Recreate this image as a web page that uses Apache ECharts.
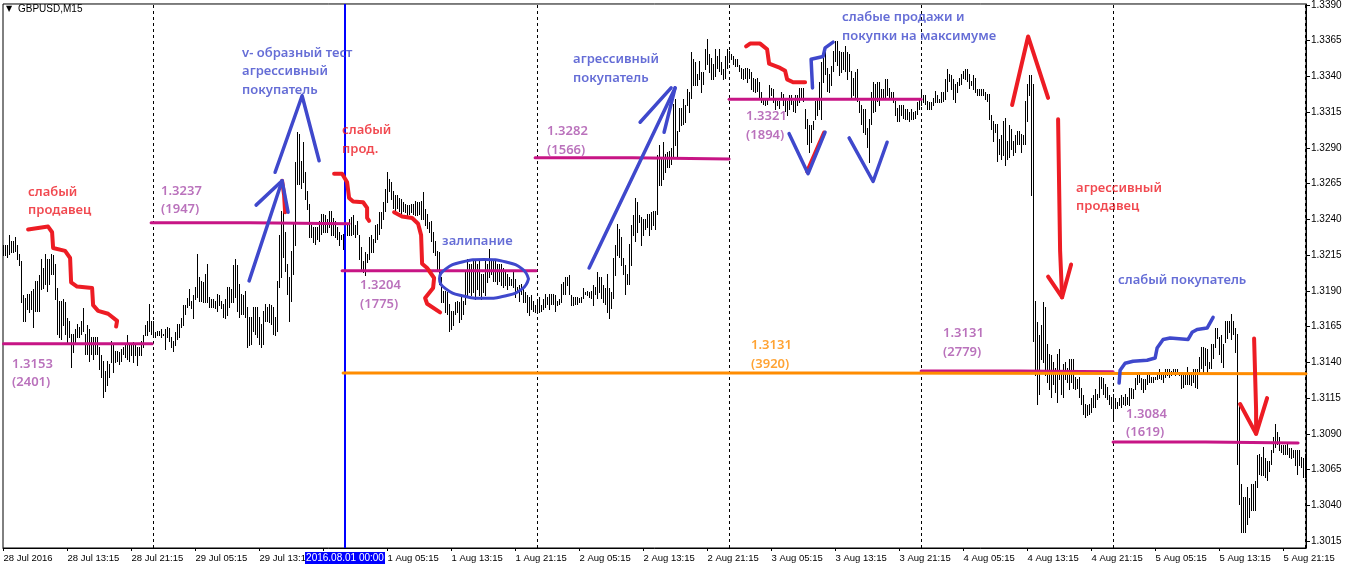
<!DOCTYPE html>
<html><head><meta charset="utf-8">
<style>html,body{margin:0;padding:0;background:#fff}#c{width:1346px;height:569px}</style>
<script src="https://cdn.jsdelivr.net/npm/echarts@6/dist/echarts.min.js"></script>
</head><body><div id="c"></div>
<script>
// GBPUSD M15 - highs/lows in units of 0.0001 above 1.0000
const highs=[
3222,3222,3222,3229,3225,3225,3228,3222,3216,3211,3187,3185,3188,3188,3190,3191,3197,3197,3201,3212,
3206,3216,3212,3212,3216,3215,3209,3192,3183,3183,3184,3182,3171,3169,3160,3160,3163,3167,3165,3169,
3178,3160,3166,3163,3158,3158,3158,3158,3151,3145,3141,3134,3141,3139,3155,3152,3148,3148,3147,3149,
3151,3152,3159,3152,3152,3154,3152,3151,3151,3155,3159,3166,3169,3181,3169,3169,3161,3162,3162,3163,
3160,3163,3165,3164,3158,3155,3161,3167,3167,3171,3180,3180,3185,3191,
3183,3187,3193,3216,3200,3197,3196,3202,3209,3186,3184,3184,3183,3188,3187,3183,3181,3184,3193,3193,
3191,3208,3212,3208,3195,3188,3187,3190,3179,3172,3172,3179,3179,3179,3172,3167,3176,3181,3179,3181,
3180,3179,3172,3197,3229,3246,3248,3231,3209,3200,3218,3238,3280,3301,3300,3281,3294,3273,3260,3251,
3236,3235,3235,3235,3239,3244,3244,3243,3240,3246,3246,3241,3239,3235,3231,3229,3230,3237,3237,3240,
3242,3243,3236,3239,3229,3221,3211,3217,3216,3228,3229,3226,3236,3237,3245,
3245,3252,3261,3273,3268,3266,3260,3257,3257,3255,3254,3252,3251,3250,3250,3251,3251,3253,3252,3252,
3253,3259,3247,3244,3238,3239,3231,3225,3218,3217,3200,3190,3190,3189,3181,3176,3176,3182,3183,3182,
3186,3183,3204,3212,3209,3209,3211,3211,3209,3212,3202,3202,3212,3209,3219,3211,3211,3211,3209,3209,
3209,3206,3204,3202,3200,3198,3203,3198,3193,3194,3195,3191,3189,3187,3186,3187,3183,3180,3183,3186,
3180,3184,3188,3186,3188,3188,3188,3187,3183,3184,3195,3196,3200,3200,3201,
3187,3186,3186,3186,3185,3186,3192,3189,3190,3189,3190,3194,3193,3203,3200,3200,3194,3192,3202,3192,
3189,3213,3222,3237,3233,3228,3213,3208,3202,3223,3236,3243,3255,3252,3243,3242,3240,3240,3244,3244,
3245,3246,3246,3285,3292,3282,3294,3286,3287,3288,3290,3321,3324,3302,3318,3318,3324,3320,3331,3329,
3357,3352,3350,3342,3351,3343,3343,3359,3366,3356,3353,3349,3359,3354,3359,3350,3345,3354,3359,3358,
3356,3354,3352,3352,3348,3346,3345,3346,3346,3345,3343,3339,3338,3339,3336,
3329,3325,3325,3324,3334,3332,3331,3324,3323,3323,3329,3328,3324,3323,3327,3327,3323,3327,3327,3332,
3332,3332,3317,3310,3306,3306,3309,3323,3324,3336,3350,3355,3358,3346,3342,3347,3358,3365,3365,3358,
3357,3357,3361,3357,3356,3344,3339,3343,3345,3323,3320,3317,3317,3304,3310,3329,3336,3335,3336,3336,
3331,3331,3338,3338,3332,3329,3329,3323,3318,3320,3320,3320,3317,3317,3315,3317,3315,3316,3322,3324,
3329,3327,3327,3323,3322,3322,3325,3330,3327,3324,3329,3329,3338,3345,3342,
3341,3338,3335,3336,3339,3342,3344,3345,3345,3342,3337,3341,3339,3331,3331,3331,3331,3329,3328,3328,
3313,3309,3307,3307,3296,3299,3309,3311,3295,3306,3303,3295,3299,3302,3302,3300,3299,3323,3335,3341,
3341,3335,3183,3168,3159,3166,3182,3179,3153,3146,3145,3140,3136,3146,3149,3132,3139,3140,3136,3142,
3142,3142,3130,3128,3130,3122,3117,3111,3110,3111,3115,3117,3121,3118,3130,3130,3129,3125,3123,3117,
3116,3118,3115,3112,3115,3117,3116,3118,3116,3122,3122,3121,3129,3131,3132,
3129,3128,3128,3131,3131,3130,3130,3130,3131,3135,3133,3132,3135,3135,3135,3134,3135,3135,3135,3133,
3132,3132,3132,3137,3131,3133,3135,3135,3135,3144,3151,3151,3150,3149,3140,3153,3153,3164,3164,3158,
3159,3153,3169,3169,3169,3174,3169,3164,3160,3111,3055,3046,3046,3053,3045,3055,3055,3057,3075,3076,
3074,3081,3073,3071,3071,3079,3088,3097,3091,3088,3082,3082,3082,3083,3080,3080,3079,3079,3079,3079,
3074,3073,3076];
const lows=[
3215,3215,3214,3216,3217,3217,3218,3212,3208,3182,3169,3169,3177,3175,3177,3165,3176,3176,3176,3191,
3192,3195,3190,3195,3202,3202,3184,3160,3158,3156,3166,3160,3153,3158,3137,3147,3154,3158,3158,3160,
3162,3146,3146,3141,3146,3142,3146,3146,3135,3130,3116,3120,3124,3130,3140,3133,3140,3141,3139,3141,
3146,3144,3142,3141,3145,3140,3145,3138,3145,3145,3151,3159,3159,3162,3160,3158,3158,3159,3159,3158,
3159,3149,3158,3155,3151,3148,3152,3156,3158,3165,3166,3174,3179,3180,
3178,3171,3184,3186,3183,3183,3182,3182,3182,3179,3179,3179,3178,3176,3180,3178,3172,3171,3173,3179,
3182,3182,3186,3176,3172,3174,3174,3172,3151,3152,3153,3162,3160,3158,3153,3151,3153,3169,3169,3168,
3167,3160,3159,3162,3193,3200,3214,3204,3188,3169,3183,3202,3222,3265,3265,3262,3266,3254,3247,3228,
3228,3224,3223,3226,3225,3230,3231,3231,3231,3235,3229,3229,3228,3226,3222,3226,3219,3223,3229,3229,
3229,3230,3228,3230,3212,3204,3203,3201,3210,3212,3217,3217,3224,3226,3230,
3234,3240,3246,3252,3260,3254,3248,3245,3248,3246,3244,3246,3245,3243,3244,3245,3244,3243,3243,3244,
3240,3240,3236,3234,3231,3225,3217,3215,3204,3195,3182,3182,3175,3174,3162,3163,3166,3174,3175,3168,
3170,3174,3181,3186,3189,3187,3189,3184,3191,3187,3184,3189,3187,3196,3200,3202,3197,3197,3195,3197,
3194,3193,3194,3191,3194,3194,3193,3186,3189,3183,3188,3182,3182,3175,3173,3177,3176,3175,3175,3175,
3176,3177,3179,3181,3177,3181,3181,3176,3180,3181,3182,3188,3188,3194,3188,
3180,3180,3181,3181,3182,3182,3185,3188,3187,3186,3185,3180,3188,3185,3189,3185,3182,3181,3175,3171,
3178,3185,3201,3215,3214,3208,3202,3188,3195,3195,3208,3229,3225,3231,3238,3222,3229,3233,3235,3229,
3233,3236,3233,3244,3264,3264,3268,3273,3277,3277,3279,3283,3292,3283,3302,3306,3307,3308,3320,3315,
3325,3334,3334,3334,3338,3329,3335,3345,3349,3343,3338,3338,3340,3346,3344,3342,3338,3339,3346,3350,
3352,3349,3347,3347,3344,3339,3338,3339,3336,3339,3331,3330,3329,3330,3324,
3322,3321,3320,3321,3325,3327,3322,3317,3320,3318,3324,3320,3316,3313,3317,3321,3316,3315,3320,3322,
3324,3323,3304,3293,3287,3294,3303,3310,3313,3317,3310,3336,3342,3330,3329,3334,3344,3351,3348,3341,
3343,3345,3344,3338,3344,3324,3327,3325,3323,3315,3307,3301,3300,3291,3280,3307,3315,3316,3323,3320,
3325,3325,3325,3327,3325,3324,3322,3313,3309,3309,3313,3311,3310,3310,3309,3310,3310,3311,3314,3317,
3320,3322,3321,3317,3317,3317,3320,3322,3322,3322,3322,3323,3324,3330,3337,
3331,3324,3322,3329,3334,3335,3339,3338,3337,3332,3334,3331,3329,3327,3327,3327,3327,3324,3323,3310,
3303,3295,3301,3281,3286,3282,3285,3278,3282,3284,3289,3285,3287,3293,3293,3287,3293,3293,3309,3327,
3257,3155,3131,3111,3118,3142,3140,3131,3126,3121,3116,3125,3119,3112,3128,3118,3116,3128,3126,3121,
3126,3122,3121,3122,3116,3111,3104,3102,3103,3104,3105,3109,3109,3114,3116,3122,3118,3116,3114,3111,
3108,3101,3108,3108,3110,3109,3111,3110,3111,3110,3115,3115,3121,3125,3126,
3121,3119,3121,3125,3126,3126,3126,3128,3128,3129,3128,3126,3130,3131,3130,3131,3132,3131,3132,3131,
3122,3123,3125,3125,3125,3124,3126,3123,3122,3133,3136,3133,3138,3132,3136,3136,3143,3151,3157,3146,
3140,3137,3154,3157,3161,3156,3160,3147,3069,3041,3021,3021,3021,3027,3032,3037,3037,3037,3053,3062,
3061,3061,3060,3058,3064,3069,3077,3081,3083,3079,3077,3076,3076,3076,3074,3073,3074,3068,3062,3068,
3067,3060,3060];
const yTicks=[3015,3040,3065,3090,3115,3140,3165,3190,3215,3240,3265,3290,3315,3340,3365,3390];
const xTickLabels=['28 Jul 2016','28 Jul 13:15','28 Jul 21:15','29 Jul 05:15','29 Jul 13:15','','1 Aug 05:15','1 Aug 13:15','1 Aug 21:15','2 Aug 05:15','2 Aug 13:15','2 Aug 21:15','3 Aug 05:15','3 Aug 13:15','3 Aug 21:15','4 Aug 05:15','4 Aug 13:15','4 Aug 21:15','5 Aug 05:15','5 Aug 13:15','5 Aug 21:15'];
const barsPerLabel=32;
const sessionBars=[74.75,266.75,362.75,458.75,554.75,651];
const markedBar=170.75;

// level lines [bar, price units]
const levels=[
 [[0,3153],[74.3,3153]],
 [[73.8,3237.6],[123.3,3237.6],[123.3,3236.9],[172.8,3236.9]],
 [[169.3,3204],[266.3,3204]],
 [[265.8,3283.2],[314.3,3283.2],[314.3,3282.3],[362.8,3282.3]],
 [[362.8,3324],[458.8,3324]],
 [[458.8,3134],[507.3,3134],[507.3,3133.4],[554.8,3133.4]],
 [[554.8,3084.3],[601,3084.3],[601,3083.6],[647.3,3083.6]]];
const orangeLevel=[[169.8,3132.6],[410.8,3132.6],[410.8,3132],[651.25,3132]];

// hand-drawn annotations [bar, price units]
const redStrokes=[
 [[12.3,3233],[13.3,3234],[22.3,3235],[24.3,3231],[24.8,3220],[30.8,3218],[33.3,3213],[33.8,3196],[36.8,3193],[44.3,3192],[44.8,3180],[47.3,3176],[52.3,3174],[56.8,3169],[56.3,3165]],
 [[139.3,3267],[140.3,3257],[140.8,3245]],
 [[165.3,3272],[169.3,3272],[171.8,3266],[172.8,3255],[174.8,3252.5],[179.8,3252],[181.8,3248],[181.8,3241],[182.8,3239]],
 [[195.3,3245],[199.3,3242],[204.3,3241],[207.3,3237],[208.8,3229],[209.3,3209],[211.8,3206],[215.3,3199],[214.8,3192],[210.8,3185],[211.8,3181],[218.3,3175]],
 [[371.3,3361],[373.3,3363],[378.3,3363],[381.8,3359],[382.8,3349],[388.3,3346],[390.8,3344],[391.8,3338],[394.8,3336],[400.8,3336]],
 [[401.8,3273.4],[410.3,3300.7]],
 [[504.3,3320],[512.3,3368],[522.3,3325]],
 [[527.3,3310],[528.3,3218],[529.3,3185.5]],
 [[522.3,3200],[529.3,3185.5],[533.8,3208.5]],
 [[625.3,3156.7],[626.3,3106.6],[626.3,3090]],
 [[618.3,3110.8],[626.3,3090],[631.8,3115]]];
const blueStrokes=[
 [[122.8,3197],[139.3,3267]],
 [[126.3,3250],[139.3,3267],[142.3,3245]],
 [[135.8,3273],[149.3,3326.5],[157.8,3281]],
 [[292.8,3206],[335.8,3332]],
 [[318.3,3308],[333.8,3332]],
 [[330.3,3301],[335.8,3332]],
 [[404.5,3332],[403.8,3352],[409.8,3354],[410.8,3360],[414.8,3364]],
 [[392.8,3300],[402.3,3272],[410.8,3301]],
 [[422.8,3297],[434.8,3266.5],[441.8,3294]],
 [[557.8,3125.5],[558.3,3134.5],[560.8,3139.4],[564.8,3140.8],[571.8,3141.5],[575.8,3143],[576.8,3150],[579.8,3156],[583.3,3157],[592.3,3156],[594.3,3161],[596.8,3163],[601.8,3164],[604.8,3171.5]]];
const loopOutline=[[262.5,3198.4],[259.5,3191.6],[251.3,3186.6],[240.3,3184.8],[229.3,3186.6],[221,3191.6],[218,3198.4],[221,3205.2],[229.3,3210.2],[240.3,3212],[251.3,3210.2],[259.5,3205.2],[262.5,3198.4]];

// notes [bar, price units, text]
const redNotes=[[12.3,3252.5,'слабый\nпродавец'],[169.3,3295.8,'слабый\nпрод.'],[536.3,3255.3,'агрессивный\nпродавец']];
const blueNotes=[[119.3,3343.6,'v- образный тест\nагрессивный\nпокупатель'],[219.3,3224.6,'залипание'],[284.8,3345.3,'агрессивный\nпокупатель'],[419.3,3374.6,'слабые продажи и\nпокупки на максимуме'],[557.3,3197.4,'слабый покупатель']];
const purpleNotes=[[4.3,3132.4,'1.3153\n(2401)'],[78.8,3253.5,'1.3237\n(1947)'],[178.3,3187.2,'1.3204\n(1775)'],[271.8,3295,'1.3282\n(1566)'],[371.3,3305.5,'1.3321\n(1894)'],[469.8,3153.7,'1.3131\n(2779)'],[561.3,3097.2,'1.3084\n(1619)']];
const orangeNotes=[[373.8,3145.4,'1.3131\n(3920)']];

const price=v=>1+v/10000;
const RED='#ed1c24',BLUE='#3f48cc',MAG='#c71585',ORG='#ff8c00',PUR='#a94fab';
const NOTE_FONT='"Noto Sans"';
const AXIS_FONT='"Liberation Sans"';

const pathSeries=(pts,color,width,extra)=>Object.assign({
  type:'line',data:pts.map(p=>[p[0],price(p[1])]),symbol:'none',silent:true,animation:false,
  lineStyle:{color:color,width:width,cap:'round',join:'round'},z:5},extra||{});
const noteSeries=(notes,color)=>({
  type:'scatter',symbol:'circle',symbolSize:0,silent:true,animation:false,z:8,
  data:notes.map(n=>({value:[n[0],price(n[1])],name:n[2]})),
  label:{show:true,position:'right',distance:0,formatter:p=>p.name,color:color,
    fontFamily:NOTE_FONT,fontSize:13,fontWeight:600,lineHeight:18.5,align:'left'}});

const series=[{
  type:'custom',silent:true,animation:false,z:2,
  data:highs.map((h,i)=>[i,price(h),price(lows[i])]),
  encode:{x:0,y:[1,2]},
  renderItem:(params,api)=>{
    const a=api.coord([api.value(0),api.value(1)]),b=api.coord([api.value(0),api.value(2)]);
    const x=Math.floor(a[0])+0.5;
    return {type:'line',shape:{x1:x,y1:Math.round(a[1]),x2:x,y2:Math.round(b[1])+1},style:{stroke:'#000',lineWidth:1}};
  },
  markLine:{silent:true,symbol:'none',animation:false,z:3,
    lineStyle:{color:'#000',width:1,type:[3,3]},label:{show:false},
    data:sessionBars.map(b=>({xAxis:b}))}
},{
  type:'line',data:[],silent:true,animation:false,
  markLine:{silent:true,symbol:'none',animation:false,z:4,
    lineStyle:{color:'#0000ff',width:2,type:'solid'},
    label:{show:true,position:'start',distance:4,formatter:'2016.08.01 00:00',color:'#fff',backgroundColor:'#0000ff',
      fontFamily:AXIS_FONT,fontSize:10,padding:[1,4,1,4],width:72,align:'center'},
    data:[{xAxis:markedBar}]}
}];
levels.forEach(l=>series.push(pathSeries(l,MAG,3)));
series.push(pathSeries(orangeLevel,ORG,3));
redStrokes.forEach(l=>series.push(pathSeries(l,RED,4)));
blueStrokes.forEach(l=>series.push(pathSeries(l,BLUE,3.5)));
series.push(pathSeries(loopOutline,BLUE,3,{smooth:true}));
series.push(noteSeries(redNotes,RED),noteSeries(blueNotes,BLUE),noteSeries(purpleNotes,PUR),noteSeries(orangeNotes,ORG));

const chart=echarts.init(document.getElementById('c'),null,{renderer:'canvas',width:1346,height:569});
chart.setOption({
  animation:false,backgroundColor:'#fff',
  title:[{text:'GBPUSD,M15',left:18,top:4,padding:0,textStyle:{fontFamily:AXIS_FONT,fontSize:10,fontWeight:'normal',color:'#000'}},
         {text:'▼',left:6,top:5,padding:0,textStyle:{fontFamily:'"DejaVu Sans"',fontSize:8,fontWeight:'normal',color:'#000'}}],
  grid:{left:3,right:40,top:3,bottom:21,show:true,borderColor:'#000',borderWidth:1,backgroundColor:'#fff'},
  tooltip:{show:false},
  xAxis:{type:'value',min:-0.25,max:651.25,splitLine:{show:false},
    axisLine:{onZero:false,lineStyle:{color:'#000'}},
    axisTick:{customValues:xTickLabels.map((_,k)=>k*barsPerLabel),length:3,lineStyle:{color:'#000'}},
    axisLabel:{customValues:xTickLabels.map((_,k)=>k*barsPerLabel),formatter:v=>xTickLabels[Math.round(v/barsPerLabel)],
      align:'left',margin:5,color:'#000',fontFamily:AXIS_FONT,fontSize:9.5,hideOverlap:false,showMinLabel:true,showMaxLabel:true}},
  yAxis:{type:'value',position:'right',min:1.30101,max:1.33907,splitLine:{show:false},
    axisLine:{onZero:false,show:true,lineStyle:{color:'#000'}},
    axisTick:{show:true,customValues:yTicks.map(price),length:4,lineStyle:{color:'#000'}},
    axisLabel:{customValues:yTicks.map(price),formatter:v=>v.toFixed(4),margin:5,color:'#000',fontFamily:AXIS_FONT,fontSize:10,hideOverlap:false}},
  series:series
});
</script></body></html>
